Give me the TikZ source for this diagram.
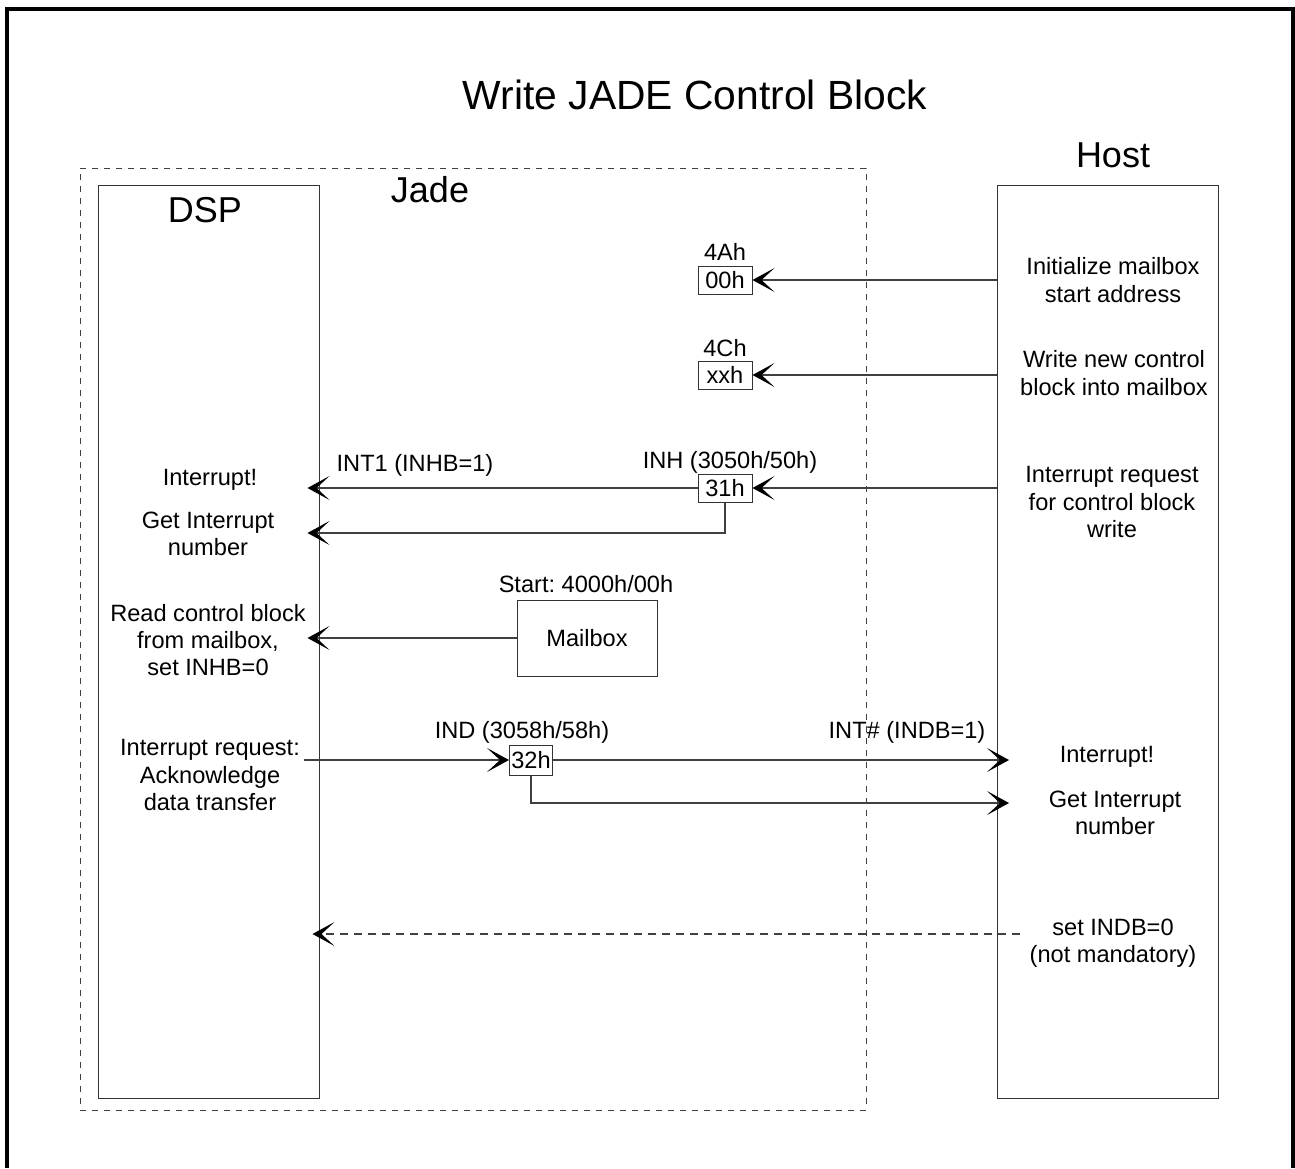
\documentclass[tikz,border=0pt]{standalone}
\usepackage{fontspec}
\setmainfont{Liberation Sans}
\usetikzlibrary{arrows.meta}
\begin{document}
\frenchspacing
\begin{tikzpicture}[x=0.5pt,y=-0.5pt]
        \tikzstyle{txt}=[align=center, inner sep=1pt, font=\fontsize{11.8pt}{13.6pt}\selectfont]
        \tikzstyle{head}=[inner sep=1pt, font=\fontsize{18pt}{20pt}\selectfont]
        \tikzstyle{lane}=[draw=black!80, line width=0.5pt, minimum width=110.5pt, minimum height=456.5pt, inner sep=0pt]
        \tikzstyle{reg}=[txt, draw=black!80, line width=0.5pt, minimum width=27pt, minimum height=14pt, inner sep=1pt]
        \tikzstyle{msg}=[draw=black!75, line width=0.6pt, -{Stealth[length=11pt,width=12pt,inset=6.5pt,line width=0.9pt,black,fill=black]}]

        \useasboundingbox (0,0) rectangle (1295,1168);
        \draw[line width=1.6pt] (7,1168) -- (7,9) -- (1293,9) -- (1293,1168);

        \node[inner sep=1pt, font=\fontsize{20.4pt}{22pt}\selectfont] (title) at (695,95) {Write JADE Control Block};

        % blocks
        \node[draw=black!75, dashed, dash pattern=on 3pt off 3pt, line width=0.5pt, minimum width=393pt, minimum height=471pt, inner sep=0pt] (jade) at (473,639) {};
        \node[lane, fill=white] (dsp) at (208.5,641.5) {};
        \node[lane] (host) at (1108,641.5) {};
        \node[head] (dsplbl) at (205,210) {DSP};
        \node[head] (jadelbl) at (430,190) {Jade};
        \node[head] (hostlbl) at (1113,155) {Host};

        % registers
        \node[txt] (a4ah) at (725,252) {4Ah};
        \node[reg] (r00) at (725,280) {00h};
        \node[txt] (a4ch) at (725,348) {4Ch};
        \node[reg] (rxx) at (725,375) {xxh};
        \node[txt] (inh) at (730,462) {INH (3050h/50h)};
        \node[reg] (r31) at (725,488) {31h};
        \node[txt] (start) at (586,584) {Start: 4000h/00h};
        \node[txt, draw=black!80, line width=0.5pt, minimum width=70pt, minimum height=38pt] (mbox) at (587,638) {Mailbox};
        \node[txt] (ind) at (522,732) {IND (3058h/58h)};
        \node[reg, minimum width=21.5pt, minimum height=15pt, inner xsep=0.5pt] (r32) at (531,760) {32h};

        % host side
        \node[txt] (hinit) at (1113,280) {Initialize mailbox\\start address};
        \node[txt] (hwrite) at (1114,373) {Write new control\\block into mailbox};
        \node[txt] (hreq) at (1112,502) {Interrupt request\\for control block\\write};
        \node[txt] (hint) at (1107,757) {Interrupt!};
        \node[txt] (hget) at (1115,813) {Get Interrupt\\number};
        \node[txt] (hindb) at (1113,943) {set INDB=0\\(not mandatory)};

        % dsp side
        \node[txt] (dint) at (210,480) {Interrupt!};
        \node[txt] (dget) at (208,534) {Get Interrupt\\number};
        \node[txt] (dread) at (208,640) {Read control block\\from mailbox,\\set INHB=0};
        \node[txt] (dreq) at (210,775) {Interrupt request:\\Acknowledge\\data transfer};

        \node[txt] (int1) at (415,465) {INT1 (INHB=1)};
        \node[txt] (intn) at (907,732) {INT\# (INDB=1)};

        \coordinate (y533) at (0,533);
        \coordinate (y803) at (0,803);
        \coordinate (indb0) at (1020,934);

        \draw[msg] (host.west |- r00) -- (r00);
        \draw[msg] (host.west |- rxx) -- (rxx);
        \draw[msg] (host.west |- r31) -- (r31);
        \draw[msg, shorten >=-6pt] (r31) -- (r31 -| dsp.east);
        \draw[msg, shorten >=-6pt] (r31.south) |- (dsp.east |- y533);
        \draw[msg, shorten >=-6pt] (mbox.west) -- (mbox.west -| dsp.east);
        \draw[msg, shorten <=-8pt] (dsp.east |- r32) -- (r32);
        \draw[msg, shorten >=-6pt] (r32) -- (r32 -| host.west);
        \draw[msg, shorten >=-6pt] (r32.south) |- (host.west |- y803);
        \draw[msg, dashed, dash pattern=on 4pt off 3pt, shorten >=-3.5pt] (indb0) -- (indb0 -| dsp.east);
\end{tikzpicture}
\end{document}
